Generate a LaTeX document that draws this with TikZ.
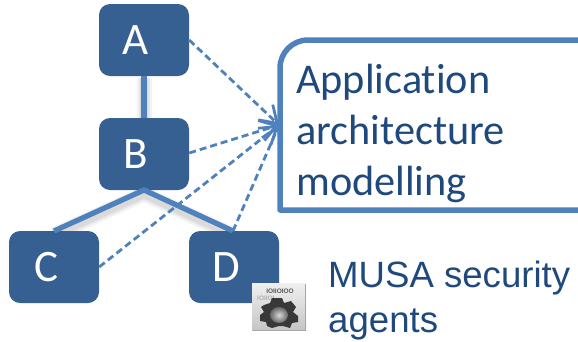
\documentclass[tikz,border=0pt]{standalone}
\usepackage{fontspec}
\setmainfont{Liberation Sans}
\newfontfamily\boxfont[Ligatures=NoCommon]{Carlito}
\usetikzlibrary{arrows.meta,positioning}
\definecolor{boxblue}{HTML}{376092}
\definecolor{lineblue}{HTML}{4F81BD}
\definecolor{textblue}{HTML}{1F497D}
\tikzset{
  tree/.style={draw=none,fill=boxblue,rounded corners=11pt,minimum width=90pt,minimum height=72pt,inner sep=0pt,text=white,font=\boxfont\fontsize{45}{45}\selectfont},
  solidlink/.style={draw=lineblue,line width=5.3pt},
  softshadow/.style={draw=black,opacity=.05,line join=round},
  dashlink/.style={draw=lineblue,line width=2.8pt,dash pattern=on 7pt off 4pt,-{Straight Barb[length=16pt,width=21pt,line width=2.8pt]}},
  bigtext/.style={text=textblue,font=\fontsize{36.6}{48}\selectfont,anchor=base west,inner sep=0pt},
  apptext/.style={text=textblue,font=\boxfont\fontsize{42.3}{48}\selectfont,anchor=base west,inner sep=0pt},
}
\begin{document}
\begin{tikzpicture}[x=1pt,y=-1pt]
\useasboundingbox (0,0) rectangle (578,341);
\coordinate (target) at (278,125);
\coordinate (fork) at (144,190);
\coordinate (ctop) at (54,231);
\coordinate (dtop) at (233,231);
\coordinate (forks) at (144,194);
\coordinate (ctops) at (54,235);
\coordinate (dtops) at (233,235);
% soft shadows
\foreach \w in {15,11,8}{
  \draw[softshadow,line width=\w pt] (ctops) -- (forks) -- (dtops);
  \draw[softshadow,line width=\w pt] (144,78) -- (144,118);
}
\node[tree] (A) at (144,40) {\kern-16pt A};
\node[tree] (B) at (144,154) {\kern-16pt B};
\node[tree] (C) at (54,267) {\kern-16pt C};
\node[tree] (D) at (234,267) {\kern-16pt D};
\draw[solidlink] (A.south) -- (B.north);
\draw[solidlink,line join=miter] (ctop) -- (fork) -- (dtop);
% application box
\draw[draw=lineblue,line width=5.5pt,fill=white,line join=round] (585,40) -- (308,40) arc[start angle=90,end angle=180,radius=28pt] -- (280,210) -- (585,210);
\coordinate (appedge) at (279,125);
\draw[dashlink] (A.east |- 0,40) -- (appedge);
\draw[dashlink] (B.east |- 0,153) -- (appedge);
\draw[dashlink] (C.east |- 0,267) -- (appedge);
\draw[dashlink] (dtop) -- (appedge);
\node[apptext] (t1) at (296,93) {Application};
\node[apptext] (t2) at (296,144) {architecture};
\node[apptext] (t3) at (296,195) {modelling};
\node[bigtext] (m1) at (328,287) {MUSA security};
\node[bigtext] (m2) at (328,332) {agents};
% icon
\begin{scope}
\shade[top color=gray!12,bottom color=gray!45] (252,283) rectangle (306,330);
\draw[gray!70,line width=1pt] (305,284) -- (305,330) -- (253,330);
\node[inner sep=0pt,text=black!65,font=\bfseries\fontsize{6.5}{6.5}\selectfont] (bits) at (280,291) {IOIIOIOO};
\node[inner sep=0pt,text=black!30,font=\bfseries\fontsize{6.5}{6.5}\selectfont,anchor=west] (bits2) at (257,298) {IOIIOI};
\fill[black!78] (264,305) -- (270,303) -- (272,298) -- (282,298) -- (284,303) -- (291,301) -- (296,307) -- (293,312) -- (298,316) -- (298,322) -- (292,323) -- (290,328) -- (283,326) -- (279,326) -- (272,328) -- (267,326) -- (266,322) -- (260,321) -- (260,315) -- (264,312) -- (261,307) -- cycle;
\shade[inner color=gray!30,outer color=black!60] (279,315) ellipse (9pt and 8pt);
\end{scope}
\end{tikzpicture}
\end{document}
